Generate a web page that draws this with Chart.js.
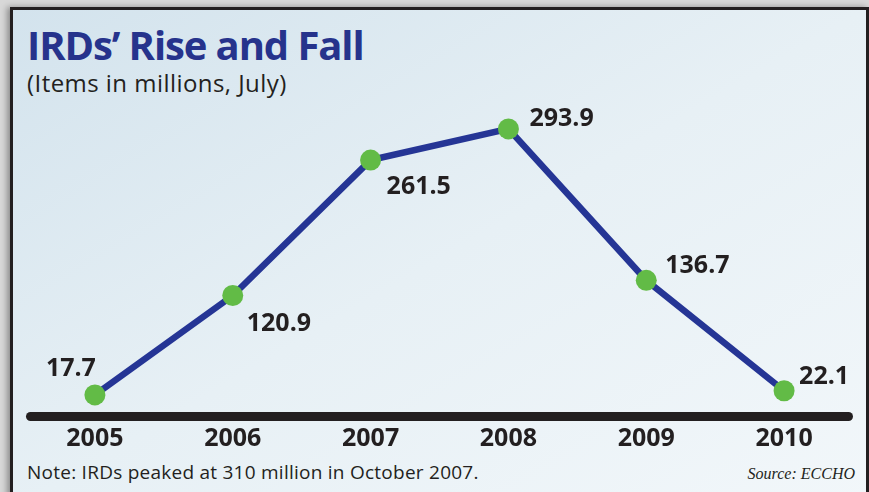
<!DOCTYPE html>
<html>
<head>
<meta charset="utf-8">
<script src="https://cdn.jsdelivr.net/npm/chart.js@4.4.0/dist/chart.umd.min.js"></script>
<style>
  body { margin: 0; width: 869px; height: 492px; overflow: hidden; background: #d8d8d8; font-family: 'Open Sans', sans-serif; }
  #frame {
    position: absolute; left: 10px; top: 7px; width: 853px; height: 500px;
    border: 3px solid #231f20; border-bottom: none;
    background: linear-gradient(to bottom right, #d3e3ed 0%, #e7f0f5 50%, #f2f7fa 100%);
    box-shadow: -3px 0 6px rgba(0,0,0,0.35);
  }
  .txt { position: absolute; white-space: nowrap; margin: 0; }
  #title { left: 27px; top: 25px; font-size: 40px; line-height: 40px; font-weight: 700; color: #26338c; letter-spacing: -1.1px; }
  #subtitle { left: 27px; top: 71px; font-size: 24px; line-height: 24px; color: #231f20; letter-spacing: 0.45px; }
  #note { left: 27px; top: 463px; font-size: 19px; line-height: 19px; color: #231f20; letter-spacing: 0.25px; }
  #source { right: 14px; top: 466px; font-family: 'Liberation Serif', serif; font-style: italic; font-size: 16px; line-height: 16px; color: #231f20; }
  canvas { position: absolute; left: 0; top: 0; }
</style>
</head>
<body>
<div id="frame"></div>
<h1 class="txt" id="title">IRDs’ Rise and Fall</h1>
<div class="txt" id="subtitle">(Items in millions, July)</div>
<div class="txt" id="note">Note: IRDs peaked at 310 million in October 2007.</div>
<div class="txt" id="source">Source: ECCHO</div>
<canvas id="irdChart" width="869" height="492"></canvas>
<script>
// dati (milioni di elementi, luglio)
const years = ['2005', '2006', '2007', '2008', '2009', '2010'];
const items = [17.7, 120.9, 261.5, 293.9, 136.7, 22.1];
const valueLabels = ['17.7', '120.9', '261.5', '293.9', '136.7', '22.1'];

// posizione delle etichette rispetto al punto: [dx, dy baseline, allineamento]
const labelOffsets = [
  [1, -19, 'right'],
  [14, 35, 'left'],
  [16, 34, 'left'],
  [21, -3, 'left'],
  [19, -7, 'left'],
  [15, -7, 'left']
];

const ink = '#231f20';

// linea di base spessa (valore zero)
const baseLine = {
  id: 'baseLine',
  beforeDatasetsDraw(chart) {
    const { ctx, chartArea, scales } = chart;
    const lw = 9;
    const y = scales.y.getPixelForValue(0) + lw / 2;
    ctx.save();
    ctx.strokeStyle = ink;
    ctx.lineWidth = lw;
    ctx.lineCap = 'round';
    ctx.beginPath();
    ctx.moveTo(chartArea.left + lw / 2, y);
    ctx.lineTo(chartArea.right - lw / 2, y);
    ctx.stroke();
    ctx.restore();
  }
};

// etichette dei valori accanto ai punti
const pointLabels = {
  id: 'pointLabels',
  afterDatasetsDraw(chart) {
    const { ctx } = chart;
    const meta = chart.getDatasetMeta(0);
    ctx.save();
    ctx.fillStyle = ink;
    ctx.font = "700 25px 'Open Sans'";
    ctx.textBaseline = 'alphabetic';
    meta.data.forEach((pt, i) => {
      const [dx, dy, align] = labelOffsets[i];
      ctx.textAlign = align;
      ctx.fillText(valueLabels[i], pt.x + dx, pt.y + dy);
    });
    ctx.restore();
  }
};

const ctx = document.getElementById('irdChart').getContext('2d');
new Chart(ctx, {
  type: 'line',
  data: {
    labels: years,
    datasets: [{
      data: items,
      borderColor: '#253595',
      borderWidth: 6.5,
      pointRadius: 10.5,
      pointHoverRadius: 10.5,
      pointBackgroundColor: '#62bb46',
      pointBorderWidth: 0,
      tension: 0,
      clip: false
    }]
  },
  options: {
    responsive: false,
    devicePixelRatio: 1,
    animation: false,
    layout: { padding: { left: 26, right: 16, top: 123, bottom: 0 } },
    plugins: { legend: { display: false }, tooltip: { enabled: false } },
    scales: {
      x: {
        offset: true,
        grid: { display: false, drawTicks: false },
        border: { display: false },
        ticks: { color: ink, padding: 12, font: { family: 'Open Sans', size: 25, weight: '700' } },
        afterFit: (scale) => { scale.height = 80; }
      },
      y: { display: false, min: 0, max: 300 }
    }
  },
  plugins: [baseLine, pointLabels]
});
</script>
</body>
</html>
